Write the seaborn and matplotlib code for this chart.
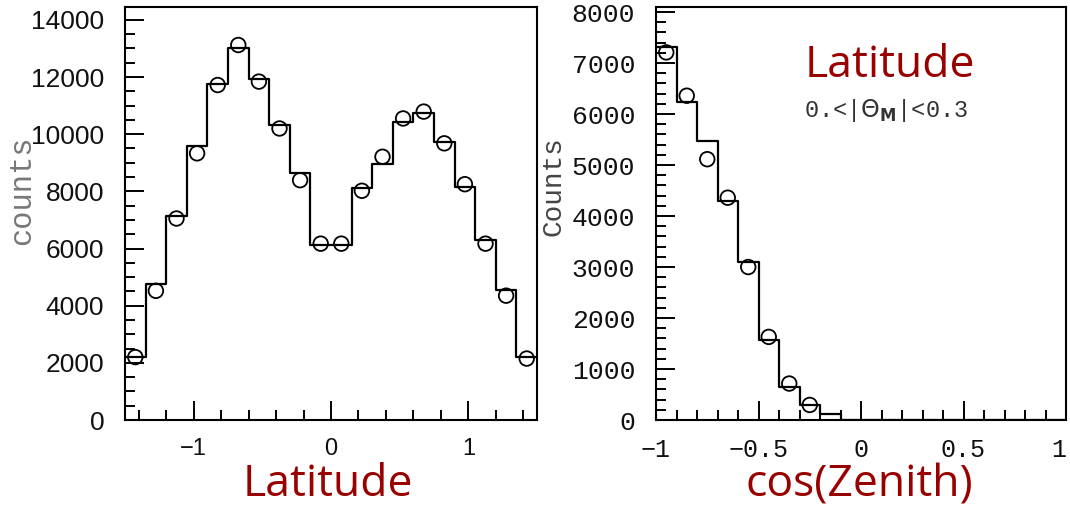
import matplotlib
matplotlib.use("Agg")
import matplotlib.pyplot as plt
from matplotlib.ticker import MultipleLocator
import seaborn as sns

# ---- Latitude distribution (20 bins over [-1.5, 1.5]) ----
lat_edges = [-1.5, -1.35, -1.2, -1.05, -0.9, -0.75, -0.6, -0.45, -0.3, -0.15, 0.0,
             0.15, 0.3, 0.45, 0.6, 0.75, 0.9, 1.05, 1.2, 1.35, 1.5]
lat_centers = [-1.425, -1.275, -1.125, -0.975, -0.825, -0.675, -0.525, -0.375, -0.225, -0.075,
               0.075, 0.225, 0.375, 0.525, 0.675, 0.825, 0.975, 1.125, 1.275, 1.425]
lat_hist = [2200, 4750, 7130, 9580, 11760, 13010, 11920, 10320, 8650, 6110,
            6110, 8100, 8950, 10440, 10730, 9740, 8160, 6310, 4550, 2200]
lat_points = [2200, 4520, 7050, 9330, 11720, 13120, 11840, 10200, 8390, 6170,
              6170, 8020, 9210, 10550, 10790, 9680, 8250, 6170, 4350, 2150]

# ---- cos(Zenith) distribution (20 bins over [-1, 1]) ----
cz_edges = [-1.0, -0.9, -0.8, -0.7, -0.6, -0.5, -0.4, -0.3, -0.2, -0.1, 0.0,
            0.1, 0.2, 0.3, 0.4, 0.5, 0.6, 0.7, 0.8, 0.9, 1.0]
cz_centers = [-0.95, -0.85, -0.75, -0.65, -0.55, -0.45, -0.35, -0.25, -0.15, -0.05,
              0.05, 0.15, 0.25, 0.35, 0.45, 0.55, 0.65, 0.75, 0.85, 0.95]
cz_hist = [7310, 6230, 5475, 4295, 3100, 1565, 650, 295, 110, 0,
           0, 0, 0, 0, 0, 0, 0, 0, 0, 0]
cz_point_x = [-0.95, -0.85, -0.75, -0.65, -0.55, -0.45, -0.35, -0.25]
cz_points = [7210, 6360, 5115, 4360, 3000, 1630, 715, 295]

lat_ticks = [-1, 0, 1]
lat_ticklabels = ["\u22121", "0", "1"]
cz_ticks = [-1, -0.5, 0, 0.5, 1]
cz_ticklabels = ["\u22121", "\u22120.5", "0", "0.5", "1"]

sns.set_theme(style="white")
plt.rcParams["font.family"] = ["Liberation Sans", "DejaVu Sans"]

W, H = 1070, 505
fig = plt.figure(figsize=(W / 100, H / 100), dpi=100)
ax1 = fig.add_axes([125 / W, 85 / H, 412 / W, 413 / H])
ax2 = fig.add_axes([656 / W, 85 / H, 410 / W, 413 / H])

RED = "#990000"
INK = "#111111"
MONO = ["Liberation Mono", "DejaVu Sans Mono"]
SANS_TITLE = ["Open Sans", "DejaVu Sans"]


def style_axes(ax):
    for sp in ax.spines.values():
        sp.set_color("black")
        sp.set_linewidth(1.5)
    ax.tick_params(which="both", direction="in", top=False, right=False,
                   left=True, bottom=True, colors="black", labelcolor=INK,
                   width=1.4)
    ax.tick_params(axis="y", labelsize=19, pad=15)
    ax.tick_params(axis="x", labelsize=17, pad=13)
    ax.tick_params(which="major", length=14)
    ax.tick_params(which="minor", length=7)
    ax.grid(False)
    ax.set_xlabel("")
    ax.set_ylabel("")


# Left panel: latitude
sns.histplot(x=lat_centers, weights=lat_hist, bins=lat_edges, element="step",
             fill=False, color="black", linewidth=1.6, ax=ax1)
sns.scatterplot(x=lat_centers, y=lat_points, marker="o", s=110,
                facecolor="none", edgecolor="black", linewidth=1.3,
                ax=ax1, zorder=3)
ax1.set_xlim(-1.5, 1.5)
ax1.set_ylim(0, 14450)
ax1.xaxis.set_minor_locator(MultipleLocator(0.2))
ax1.yaxis.set_major_locator(MultipleLocator(2000))
ax1.yaxis.set_minor_locator(MultipleLocator(500))
ax1.set_xticks(lat_ticks)
ax1.set_xticklabels(lat_ticklabels)
style_axes(ax1)

# Right panel: cos(zenith)
sns.histplot(x=cz_centers, weights=cz_hist, bins=cz_edges, element="step",
             fill=False, color="black", linewidth=1.6, ax=ax2)
sns.scatterplot(x=cz_point_x, y=cz_points, marker="o", s=110,
                facecolor="none", edgecolor="black", linewidth=1.3,
                ax=ax2, zorder=3)
ax2.set_xlim(-1, 1)
ax2.set_ylim(0, 8100)
ax2.xaxis.set_minor_locator(MultipleLocator(0.1))
ax2.yaxis.set_major_locator(MultipleLocator(1000))
ax2.yaxis.set_minor_locator(MultipleLocator(200))
ax2.set_xticks(cz_ticks)
ax2.set_xticklabels(cz_ticklabels)
style_axes(ax2)
for lab in ax2.get_yticklabels() + ax2.get_xticklabels():
    lab.set_family(MONO)
for lab in ax2.get_xticklabels():
    lab.set_fontsize(18)
# keep the last label at the figure edge inside the canvas
ax2.get_xticklabels()[-1].set_horizontalalignment("right")

# Vertical axis titles
fig.text(22 / W, 1 - 190 / H, "counts", rotation=90, ha="center", va="center",
         fontsize=22, color="#777777", family=MONO)
fig.text(554 / W, 1 - 186 / H, "Counts", rotation=90, ha="center", va="center",
         fontsize=20, color="#444444", family=MONO)

# Panel annotation
fig.text(890 / W, 1 - 66 / H, "Latitude", ha="center", va="center",
         fontsize=32, color=RED, family=SANS_TITLE)
fig.text(886 / W, 1 - 110 / H, r"0.<|$\Theta_{\mathbf{M}}$|<0.3", ha="center",
         va="center", fontsize=17, color="#333333", family=MONO)

# Axis titles under each panel
fig.text(328 / W, 1 - 496 / H, "Latitude", ha="center", va="baseline",
         fontsize=32, color=RED, family=SANS_TITLE)
fig.text(859 / W, 1 - 496 / H, "cos(Zenith)", ha="center", va="baseline",
         fontsize=32, color=RED, family=SANS_TITLE)

fig.savefig("out.png", dpi=100, facecolor="white")
